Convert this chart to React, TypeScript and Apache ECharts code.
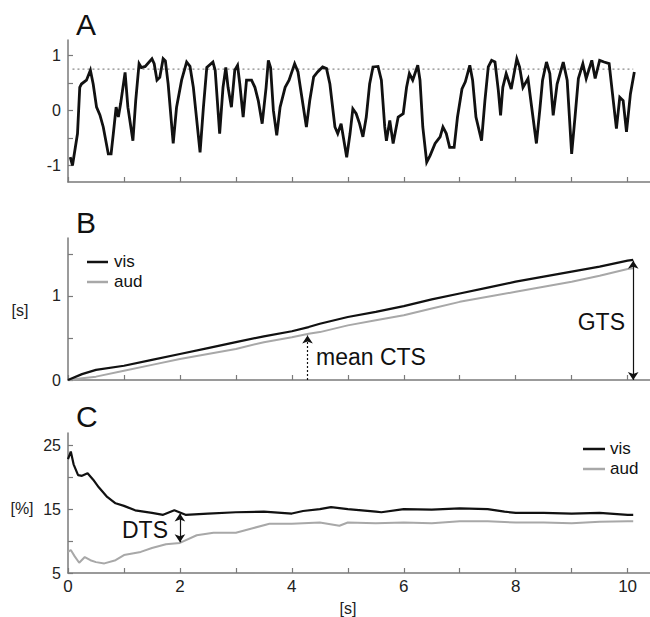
import React, { useEffect, useRef } from "react";
import * as echarts from "echarts";

// ---------- Panel A: trajectory ----------
const aTime = [0.04,0.08,0.17,0.21,0.24,0.33,0.40,0.45,0.51,0.57,
  0.63,0.72,0.77,0.81,0.86,0.90,0.94,1.02,1.07,1.16,
  1.21,1.27,1.31,1.38,1.50,1.54,1.59,1.64,1.70,1.74,
  1.79,1.88,1.94,2.03,2.12,2.18,2.24,2.36,2.42,2.48,
  2.59,2.63,2.71,2.77,2.82,2.86,2.92,2.98,3.03,3.07,
  3.13,3.19,3.28,3.34,3.40,3.47,3.54,3.58,3.62,3.67,
  3.73,3.79,3.88,3.95,4.05,4.11,4.17,4.26,4.32,4.39,
  4.46,4.55,4.62,4.68,4.77,4.82,4.88,4.98,5.04,5.09,
  5.15,5.21,5.27,5.33,5.39,5.45,5.54,5.60,5.66,5.69,
  5.75,5.81,5.90,5.99,6.05,6.10,6.16,6.25,6.29,6.34,
  6.41,6.47,6.56,6.65,6.70,6.76,6.82,6.90,6.96,7.04,
  7.10,7.18,7.23,7.29,7.39,7.45,7.51,7.57,7.63,7.69,
  7.73,7.77,7.83,7.92,8.02,8.07,8.13,8.22,8.27,8.37,
  8.43,8.48,8.55,8.61,8.67,8.74,8.85,8.92,9.00,9.06,
  9.12,9.20,9.26,9.36,9.42,9.50,9.58,9.67,9.73,9.80,
  9.86,9.92,9.98,10.05,10.12];
const aValue = [-0.85,-1.0,-0.42,0.42,0.48,0.55,0.73,0.48,0.06,-0.08,
  -0.30,-0.79,-0.79,-0.42,0.06,-0.12,0.12,0.69,0.06,-0.55,
  0.18,0.85,0.78,0.80,0.94,0.85,0.55,0.60,0.94,0.90,
  0.48,-0.60,0.06,0.55,0.88,0.80,0.42,-0.76,0.06,0.78,
  0.88,0.73,-0.42,0.42,0.78,0.42,0.06,0.73,0.82,0.48,
  -0.12,0.55,0.55,0.42,0.18,-0.24,0.42,0.91,0.78,0.0,
  -0.45,0.06,0.42,0.55,0.85,0.70,0.30,-0.30,0.18,0.61,
  0.70,0.79,0.76,0.48,-0.30,-0.42,-0.24,-0.85,-0.42,0.03,
  -0.06,-0.24,-0.48,-0.12,0.48,0.79,0.80,0.55,-0.30,-0.55,
  -0.18,-0.60,-0.12,-0.06,0.42,0.67,0.55,0.82,0.55,-0.30,
  -0.94,-0.82,-0.60,-0.48,-0.30,-0.42,-0.67,-0.67,-0.12,0.39,
  0.52,0.82,0.55,-0.12,-0.55,0.18,0.79,0.91,0.88,0.36,
  -0.09,0.42,0.67,0.39,0.94,0.79,0.42,0.58,0.18,-0.60,
  0.0,0.55,0.88,0.67,-0.09,0.48,0.88,0.55,-0.79,-0.12,
  0.58,0.85,0.58,0.91,0.58,0.91,0.88,0.85,0.30,-0.33,
  0.24,0.18,-0.39,0.30,0.70];
const threshold = 0.75;
const thresholdSpan = [0.08, 10.1];

// ---------- Panel B: cumulative time ----------
const bTime = [0,0.25,0.5,1,1.5,2,2.5,3,3.5,4,4.3,4.5,5,5.5,6,6.5,7,7.5,8,8.5,9,9.5,10,10.1];
const bVis = [0,0.07,0.12,0.17,0.24,0.31,0.38,0.45,0.52,0.58,0.63,0.67,0.75,0.81,0.88,0.96,1.03,1.10,1.17,1.23,1.29,1.35,1.42,1.43];
const bAud = [0,0.02,0.04,0.11,0.18,0.25,0.31,0.37,0.45,0.51,0.55,0.57,0.65,0.71,0.77,0.85,0.93,0.99,1.05,1.11,1.17,1.24,1.32,1.33];
const ctsTime = 4.28;
const ctsTop = 0.53;
const gtsTime = 10.1;
const gtsTop = 1.42;

// ---------- Panel C: percentages ----------
const cVisTime = [0,0.05,0.1,0.18,0.25,0.35,0.45,0.55,0.7,0.85,1.0,1.2,1.5,1.7,1.9,2.1,2.5,3.0,3.5,4.0,4.2,4.5,4.7,5.0,5.5,5.6,6.0,6.5,7.0,7.5,7.8,8.0,8.5,9.0,9.5,10.0,10.1];
const cVis = [22.8,24.0,22.0,20.3,20.2,20.6,19.6,18.4,16.9,15.9,15.5,14.8,14.4,14.1,14.8,14.1,14.3,14.5,14.6,14.3,14.7,15.0,15.3,15.0,14.6,14.5,15.0,14.9,15.1,15.0,14.6,14.4,14.4,14.3,14.4,14.1,14.1];
const cAudTime = [0,0.05,0.12,0.2,0.3,0.4,0.5,0.65,0.85,1.0,1.3,1.5,1.75,2.0,2.3,2.6,3.0,3.3,3.6,4.0,4.5,4.85,5.0,5.5,6.0,6.5,7.0,7.5,8.0,8.5,9.0,9.5,10.0,10.1];
const cAud = [8.3,8.6,7.6,6.6,7.5,7.0,6.7,6.5,7.0,7.8,8.3,8.9,9.5,9.7,10.9,11.3,11.3,12.0,12.7,12.7,12.9,12.4,12.9,12.8,12.9,12.8,13.1,13.1,12.9,12.9,12.8,13.0,13.1,13.1];
const dtsTime = 2.0;
const dtsRange = [14.3, 9.8];

// ---------- Axes ----------
const xTicks = [0,1,2,3,4,5,6,7,8,9,10];
const xLabels = [0,2,4,6,8,10];
const aYTicks = [-1,-0.5,0,0.5,1];
const aYLabels = [-1,0,1];
const bYTicks = [0,0.5,1,1.5];
const bYLabels = [0,1];
const cYTicks = [5,10,15,20,25];
const cYLabels = [5,15,25];

const FONT = '"Liberation Sans", Arial, sans-serif';
const AXIS = "#7a7a7a";
const VIS = "#111111";
const AUD = "#a8a8a8";

const zip = (t: number[], v: number[]) => t.map((x, i) => [x, v[i]]);

export default function App() {
  const ref = useRef<HTMLDivElement>(null);
  useEffect(() => {
    const chart = echarts.init(ref.current!, null, { renderer: "svg" });
    const xAxis = [0, 1, 2].map((i) => ({
      type: "value",
      gridIndex: i,
      min: 0,
      max: 10.4,
      axisLine: { show: true, onZero: false, lineStyle: { color: AXIS, width: 1.5 } },
      axisTick: { show: true, inside: true, length: 5, customValues: xTicks, lineStyle: { color: AXIS, width: 1.2 } },
      axisLabel: { show: i === 2, customValues: xLabels, margin: 5, fontSize: 17, color: "#222", fontFamily: FONT },
      splitLine: { show: false },
    }));
    const yCommon = (gi: number, min: number, max: number, ticks: number[], labels: number[]) => ({
      type: "value",
      gridIndex: gi,
      min,
      max,
      axisLine: { show: true, onZero: false, lineStyle: { color: AXIS, width: 1.5 } },
      axisTick: { show: true, inside: true, length: 5, customValues: ticks, lineStyle: { color: AXIS, width: 1.2 } },
      axisLabel: { show: true, customValues: labels, margin: 7, fontSize: 16, color: "#222", fontFamily: FONT },
      splitLine: { show: false },
    });
    const text = (t: string, x: number, y: number, size: number, align = "left", fill = "#111") => ({
      type: "text",
      x,
      y,
      style: { text: t, font: `${size}px ${FONT}`, fill, align, verticalAlign: "middle" },
    });
    const legendLine = (x1: number, x2: number, y: number, color: string) => ({
      type: "line",
      shape: { x1, y1: y, x2, y2: y },
      style: { stroke: color, lineWidth: 2.5 },
    });
    chart.setOption({
      animation: false,
      grid: [
        { left: 68, right: 0, top: 40, height: 142 },
        { left: 68, right: 0, top: 238, height: 142 },
        { left: 68, right: 0, top: 433, height: 140 },
      ],
      xAxis,
      yAxis: [
        yCommon(0, -1.3, 1.28, aYTicks, aYLabels),
        yCommon(1, 0, 1.69, bYTicks, bYLabels),
        yCommon(2, 5, 26.9, cYTicks, cYLabels),
      ],
      series: [
        {
          type: "line", xAxisIndex: 0, yAxisIndex: 0, showSymbol: false,
          data: thresholdSpan.map((t) => [t, threshold]),
          lineStyle: { color: "#888", width: 1.2, type: [2, 3] },
        },
        {
          type: "line", xAxisIndex: 0, yAxisIndex: 0, showSymbol: false,
          data: zip(aTime, aValue),
          lineStyle: { color: VIS, width: 2.8, join: "miter" },
        },
        {
          name: "aud", type: "line", xAxisIndex: 1, yAxisIndex: 1, showSymbol: false,
          data: zip(bTime, bAud),
          lineStyle: { color: AUD, width: 2 },
          markLine: {
            silent: true,
            symbol: ["none", "arrow"],
            symbolSize: 8,
            label: { show: false },
            lineStyle: { color: "#111", width: 1.2, type: [2, 2] },
            data: [[{ coord: [ctsTime, 0] }, { coord: [ctsTime, ctsTop] }]],
          },
        },
        {
          name: "vis", type: "line", xAxisIndex: 1, yAxisIndex: 1, showSymbol: false,
          data: zip(bTime, bVis),
          lineStyle: { color: VIS, width: 2.2 },
          markLine: {
            silent: true,
            symbol: ["arrow", "arrow"],
            symbolSize: 8,
            label: { show: false },
            lineStyle: { color: "#111", width: 1.2, type: "solid" },
            data: [[{ coord: [gtsTime, 0] }, { coord: [gtsTime, gtsTop] }]],
          },
        },
        {
          name: "aud", type: "line", xAxisIndex: 2, yAxisIndex: 2, showSymbol: false,
          data: zip(cAudTime, cAud),
          lineStyle: { color: AUD, width: 2 },
          markLine: {
            silent: true,
            symbol: ["arrow", "arrow"],
            symbolSize: 8,
            label: { show: false },
            lineStyle: { color: "#111", width: 1.2, type: "solid" },
            data: [[{ coord: [dtsTime, dtsRange[0]] }, { coord: [dtsTime, dtsRange[1]] }]],
          },
        },
        {
          name: "vis", type: "line", xAxisIndex: 2, yAxisIndex: 2, showSymbol: false,
          data: zip(cVisTime, cVis),
          lineStyle: { color: VIS, width: 2.2 },
        },
      ],
      graphic: [
        text("A", 76, 24, 30),
        text("B", 76, 222, 30),
        text("C", 76, 416, 30),
        text("[s]", 20, 310, 16, "center", "#222"),
        text("[%]", 22, 508, 16, "center", "#222"),
        text("[s]", 348, 608, 16, "center", "#222"),
        text("mean CTS", 316, 357, 23),
        text("GTS", 625, 322, 23, "right"),
        text("DTS", 122, 530, 23),
        legendLine(87, 108, 262, VIS),
        legendLine(87, 108, 282, AUD),
        text("vis", 114, 261, 17),
        text("aud", 114, 281, 17),
        legendLine(583, 605, 449, VIS),
        legendLine(583, 605, 469, AUD),
        text("vis", 610, 448, 17),
        text("aud", 610, 468, 17),
      ],
    });
    return () => chart.dispose();
  }, []);
  return (
    <div
      ref={ref}
      style={{ position: "fixed", left: 0, top: 0, width: 650, height: 617, background: "#fff" }}
    />
  );
}
